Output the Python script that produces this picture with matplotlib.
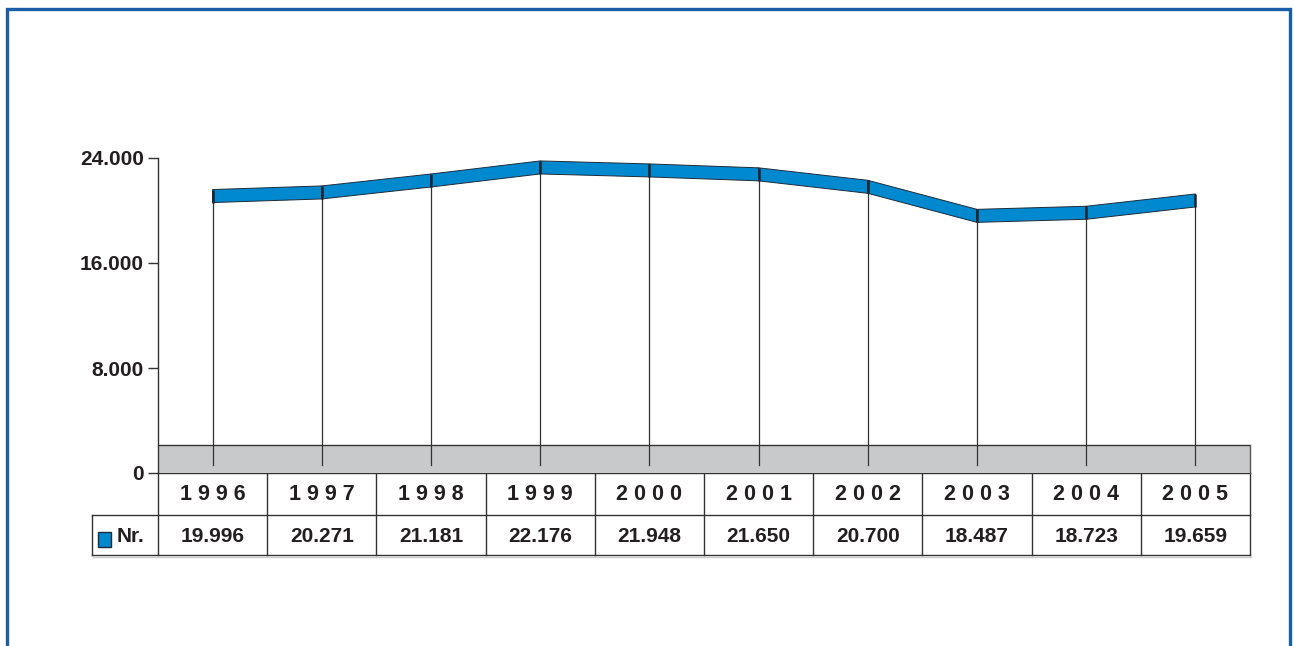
import matplotlib
matplotlib.use("Agg")
import matplotlib.pyplot as plt
from matplotlib.patches import Rectangle, Polygon
from matplotlib.transforms import blended_transform_factory
from matplotlib.ticker import FuncFormatter

# ---- data ----
years = [1996, 1997, 1998, 1999, 2000, 2001, 2002, 2003, 2004, 2005]
values = [19996, 20271, 21181, 22176, 21948, 21650, 20700, 18487, 18723, 19659]
series_name = "Nr."
y_ticks = [0, 8000, 16000, 24000]

W, H = 1294, 646
DPI = 100
plt.rcParams['font.family'] = ['Liberation Sans', 'DejaVu Sans']
plt.rcParams['font.weight'] = 'bold'

fig = plt.figure(figsize=(W / DPI, H / DPI), dpi=DPI)
fig.patch.set_facecolor('white')

# overlay in pixel coordinates
ov = fig.add_axes([0, 0, 1, 1])
ov.set_xlim(0, W)
ov.set_ylim(H, 0)
ov.axis('off')

# main plot area (pixels)
x0, x1 = 158, 1250
y_top, y_zero = 158, 473
ax = fig.add_axes([x0 / W, (H - y_zero) / H, (x1 - x0) / W, (y_zero - y_top) / H])
ymax = y_ticks[-1]
ax.set_xlim(0, len(years))
ax.set_ylim(0, ymax)
ax.patch.set_alpha(0)
for s in ['top', 'right', 'bottom']:
    ax.spines[s].set_visible(False)
ax.spines['left'].set_color('#333333')
ax.spines['left'].set_linewidth(1.0)
ax.set_xticks([])
ax.set_yticks(y_ticks)
ax.yaxis.set_major_formatter(FuncFormatter(lambda v, p: f"{int(v):,}".replace(',', '.')))
ax.tick_params(axis='y', length=7, width=1, color='#333333', pad=3,
               labelsize=15, labelcolor='#231f20')

def px(n):
    return n * ymax / (y_zero - y_top)

xs = [i + 0.5 for i in range(len(years))]

# gray floor
floor_h = px(28)
ax.add_patch(Rectangle((0, 0), len(years), floor_h, facecolor='#c8c9cb',
                       edgecolor='none', zorder=1))
ax.plot([0, len(years)], [floor_h, floor_h], color='#333333', lw=1.0, zorder=2)
ax.plot([len(years), len(years)], [0, floor_h], color='#555555', lw=1.0, zorder=2,
        clip_on=False)

# series plane offset and ribbon
plane = px(8)
thick = px(13)
bottom = [v + plane for v in values]
top = [b + thick for b in bottom]

# drop lines
for x, b in zip(xs, bottom):
    ax.plot([x, x], [plane, b], color='#333333', lw=0.9, zorder=3)

# ribbon segments
for i in range(len(xs) - 1):
    poly = Polygon([(xs[i], bottom[i]), (xs[i + 1], bottom[i + 1]),
                    (xs[i + 1], top[i + 1]), (xs[i], top[i])],
                   closed=True, facecolor='#0089cf', edgecolor='#1c2b3a',
                   lw=0.7, zorder=4)
    ax.add_patch(poly)
for x, b, t in zip(xs, bottom, top):
    ax.plot([x, x], [b, t], color='#1c2430', lw=1.8, zorder=5,
            solid_capstyle='butt')

# ---- data table ----
tr = blended_transform_factory(ax.transData, ov.transData)
line_c = '#333333'
r1_top, r1_bot, r2_bot = 473, 515, 555
leg_left = 92
ov.plot([x0, x1], [r1_top, r1_top], color=line_c, lw=1.0)
ov.plot([leg_left, x1], [r1_bot, r1_bot], color=line_c, lw=1.0)
ov.plot([leg_left, x1], [r2_bot, r2_bot], color=line_c, lw=1.0)
ov.plot([leg_left + 1, x1 + 1], [r2_bot + 1.5, r2_bot + 1.5], color='#cccccc', lw=1.0)
ov.plot([leg_left, leg_left], [r1_bot, r2_bot], color=line_c, lw=1.0)
for i in range(len(years) + 1):
    ov.plot([i, i], [r1_top, r2_bot], color=line_c, lw=1.0, transform=tr)

for x, yr, v in zip(xs, years, values):
    ov.text(x, (r1_top + r1_bot) / 2 + 1, " ".join(str(yr)), transform=tr,
            ha='center', va='center', fontsize=15.5, color='#231f20', fontweight='bold')
    ov.text(x, (r1_bot + r2_bot) / 2 + 1, f"{v:,}".replace(',', '.'), transform=tr,
            ha='center', va='center', fontsize=15, color='#231f20', fontweight='bold')

# legend key
ov.add_patch(Rectangle((98, 532), 13, 15, facecolor='#0089cf', edgecolor='#1c2b3a', lw=1.0))
ov.text(117, (r1_bot + r2_bot) / 2 + 1, series_name, ha='left', va='center',
        fontsize=15, color='#231f20', fontweight='bold')

# blue frame
ov.plot([7, 7, 1290, 1290], [H + 5, 9, 9, H + 5], color='#1a5ea8', lw=2.4,
        solid_joinstyle='miter', clip_on=False)

fig.savefig('out.png', dpi=DPI, facecolor='white')
